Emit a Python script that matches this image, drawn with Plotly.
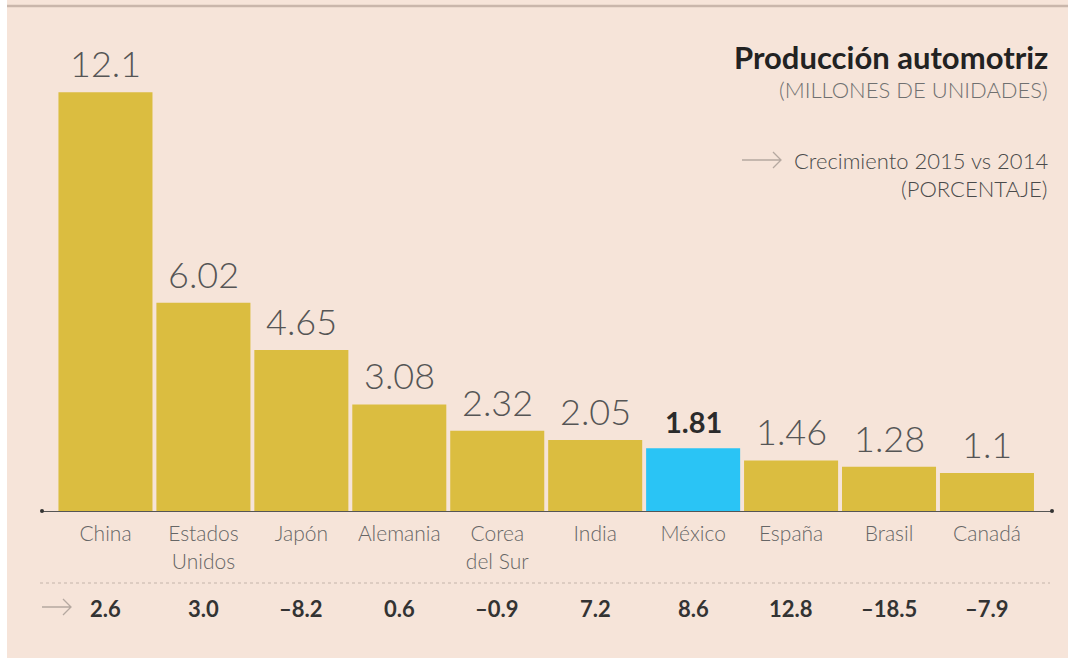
import plotly.graph_objects as go

countries = ["China", "Estados<br>Unidos", "Japón", "Alemania", "Corea<br>del Sur",
             "India", "México", "España", "Brasil", "Canadá"]
production = [12.1, 6.02, 4.65, 3.08, 2.32, 2.05, 1.81, 1.46, 1.28, 1.1]
production_labels = ["12.1", "6.02", "4.65", "3.08", "2.32", "2.05", "1.81", "1.46", "1.28", "1.1"]
growth = ["2.6", "3.0", "-8.2", "0.6", "-0.9", "7.2", "8.6", "12.8", "-18.5", "-7.9"]
highlight = "México"

YELLOW = "#DBBD40"
BLUE = "#2AC4F5"
BG = "#F6E4D9"
FONT = "Lato"

W, H = 1068, 658
ML, MR, MT, MB = 42, 16, 40, 147
PW = W - ML - MR
PH = H - MT - MB
BASE = H - MB


def px(p):
    return (p - ML) / PW


def py(p):
    return (BASE - p) / PH


xs = list(range(len(countries)))
colors = [BLUE if c == highlight else YELLOW for c in countries]

fig = go.Figure()
fig.add_trace(go.Bar(
    x=xs, y=production, marker=dict(color=colors, line=dict(width=0)),
    width=0.96, hoverinfo="skip", showlegend=False,
))

annotations = []
for i, (v, lab, c) in enumerate(zip(production, production_labels, countries)):
    bold = c == highlight
    annotations.append(dict(
        x=i, y=v, xref="x", yref="y", text=f"<b>{lab}</b>" if bold else lab,
        showarrow=False, yanchor="bottom", yshift=5 if not bold else 7,
        font=dict(family=FONT, size=29 if bold else 36,
                  color="#2b2b2b" if bold else "#555555",
                  weight=700 if bold else 300),
    ))

for i, g in enumerate(growth):
    annotations.append(dict(
        x=i, y=py(608), xref="x", yref="paper", text=f"<b>{g.replace('-', '–')}</b>",
        showarrow=False, yanchor="middle",
        font=dict(family=FONT, size=22, color="#333333"),
    ))

annotations += [
    dict(x=px(1050), y=py(57), xref="paper", yref="paper", text="<b>Producción automotriz</b>",
         showarrow=False, xanchor="right", yanchor="middle",
         font=dict(family=FONT, size=31, color="#222222")),
    dict(x=px(1050), y=py(90), xref="paper", yref="paper", text="(MILLONES DE UNIDADES)",
         showarrow=False, xanchor="right", yanchor="middle",
         font=dict(family=FONT, size=22, color="#707070", weight=300)),
    dict(x=px(1050), y=py(160), xref="paper", yref="paper", text="Crecimiento 2015 vs 2014",
         showarrow=False, xanchor="right", yanchor="middle",
         font=dict(family=FONT, size=22, color="#4a4a4a", weight=300)),
    dict(x=px(1050), y=py(188), xref="paper", yref="paper", text="(PORCENTAJE)",
         showarrow=False, xanchor="right", yanchor="middle",
         font=dict(family=FONT, size=22, color="#4a4a4a", weight=300)),
]

ARROW = "#b5a8a0"
shapes = [
    # left white strip
    dict(type="rect", xref="paper", yref="paper", x0=px(-5), x1=px(7), y0=py(-5), y1=py(H + 5),
         fillcolor="white", line=dict(width=0), layer="below"),
    # top border
    dict(type="line", xref="paper", yref="paper", x0=px(7), x1=px(W + 5), y0=py(6), y1=py(6),
         line=dict(color="#c9b6ab", width=2.5)),
    # dotted separator
    dict(type="line", xref="paper", yref="paper", x0=px(40), x1=px(1050), y0=py(583), y1=py(583),
         line=dict(color="#c4b4aa", width=1, dash="dot")),
    # axis end dots
    dict(type="circle", xref="paper", yref="paper", x0=px(40), x1=px(44), y0=py(509), y1=py(513),
         fillcolor="#333333", line=dict(width=0)),
    dict(type="circle", xref="paper", yref="paper", x0=px(1050), x1=px(1054), y0=py(509), y1=py(513),
         fillcolor="#333333", line=dict(width=0)),
    # row arrow
    dict(type="path", xref="paper", yref="paper",
         path=f"M {px(42)},{py(607)} L {px(71)},{py(607)} M {px(63)},{py(599)} L {px(71)},{py(607)} L {px(63)},{py(615)}",
         line=dict(color=ARROW, width=1.3)),
    # legend arrow
    dict(type="path", xref="paper", yref="paper",
         path=f"M {px(742)},{py(160)} L {px(781)},{py(160)} M {px(773)},{py(152)} L {px(781)},{py(160)} L {px(773)},{py(168)}",
         line=dict(color=ARROW, width=1.3)),
]

fig.update_layout(
    width=W, height=H,
    margin=dict(l=ML, r=MR, t=MT, b=MB),
    paper_bgcolor=BG, plot_bgcolor=BG,
    bargap=0.04,
    annotations=annotations,
    shapes=shapes,
    xaxis=dict(
        range=[-0.648, 9.664], tickmode="array", tickvals=xs, ticktext=countries,
        showgrid=False, zeroline=False, showline=True, linecolor="#555555", linewidth=1,
        ticks="", ticklabelstandoff=4,
        tickfont=dict(family=FONT, size=21, color="#666666", weight=300),
    ),
    yaxis=dict(range=[0, PH / 34.6], visible=False, showgrid=False, zeroline=False),
)

fig.write_html("out.html", config={"displayModeBar": False},
               post_script="document.body.style.margin='0';")
